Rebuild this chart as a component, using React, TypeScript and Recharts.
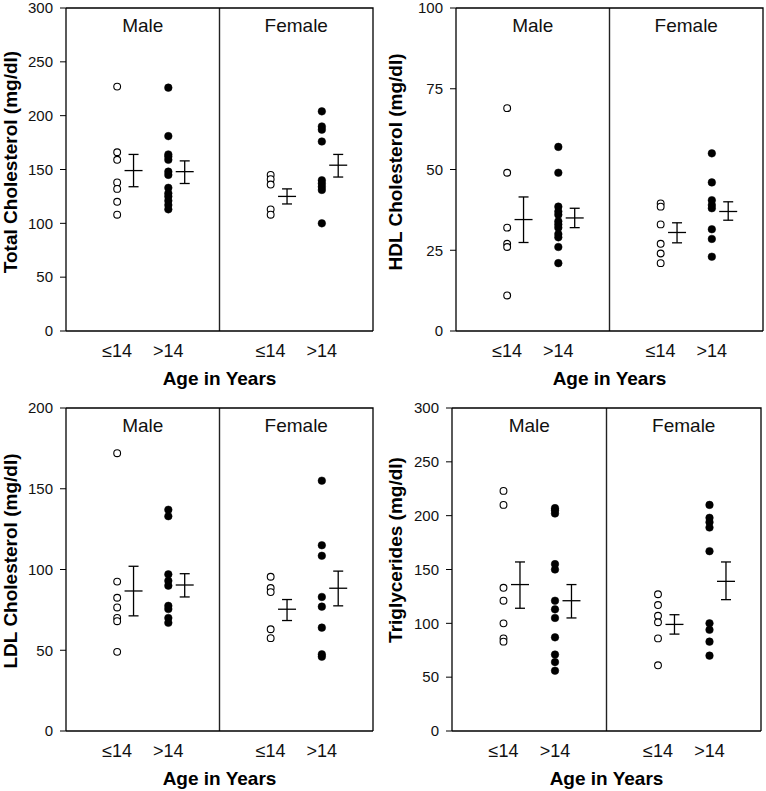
import { ScatterChart, Scatter, XAxis, YAxis, ReferenceArea, ReferenceLine, ErrorBar } from "recharts";

// groups on the x axis: male ≤14, male >14, female ≤14, female >14
const groupLabels = ["≤14", ">14", "≤14", ">14"];
const groupX = [1, 2, 4, 5];
const sexes = ["Male", "Female"];

// Total cholesterol
const tcMaleYoung = [227, 166, 159, 138, 132, 120, 108];
const tcMaleOld = [226, 181, 164, 162, 159, 148, 145, 133, 128, 125, 121, 117, 113];
const tcFemaleYoung = [145, 141, 136, 113, 108];
const tcFemaleOld = [204, 190, 187, 176, 140, 137, 134, 131, 100];
const tcMean = [149, 148, 125, 154];
const tcSeLow = [134, 137, 118, 143];
const tcSeHigh = [164, 158, 132, 164];

// HDL cholesterol
const hdlMaleYoung = [69, 49, 32, 27, 26, 11];
const hdlMaleOld = [57, 49, 38.5, 37, 36, 34, 33, 32, 30, 29, 26, 21];
const hdlFemaleYoung = [39.5, 38.5, 33, 27, 24, 21];
const hdlFemaleOld = [55, 46, 40.5, 39, 38, 31.5, 28.5, 23];
const hdlMean = [34.5, 35, 30.5, 37];
const hdlSeLow = [27.4, 32, 27.3, 34.3];
const hdlSeHigh = [41.5, 38, 33.5, 40];

// LDL cholesterol
const ldlMaleYoung = [172, 92.5, 82.5, 76.5, 70, 68, 49];
const ldlMaleOld = [137, 133, 97, 93, 90, 77.5, 75.5, 70, 67];
const ldlFemaleYoung = [95.5, 88.5, 86, 63, 57.5];
const ldlFemaleOld = [155, 115, 108.5, 83, 77, 64, 47.5, 46];
const ldlMean = [86.7, 90.4, 75.4, 88.4];
const ldlSeLow = [71.3, 83, 68.4, 77.5];
const ldlSeHigh = [102, 97.4, 81.4, 99];

// Triglycerides
const tgMaleYoung = [223, 210, 133, 121, 100, 86, 83];
const tgMaleOld = [207, 205, 202, 155, 150, 121, 113, 105, 87, 71, 64, 56];
const tgFemaleYoung = [127, 117, 107, 101, 86, 61];
const tgFemaleOld = [210, 198, 194, 189, 167, 100, 94, 83, 70];
const tgMean = [136, 121, 99, 139];
const tgSeLow = [114, 105, 90, 122];
const tgSeHigh = [157, 136, 108, 157];

const FONT = "'Liberation Sans', Arial, sans-serif";
const PLOT_TOP = 8;

type PanelProps = {
  left: number;
  top: number;
  axisW: number;
  rightM: number;
  yTitle: string;
  titleX: number;
  titleY: number;
  yMax: number;
  yTicks: number[];
  groups: number[][];
  mean: number[];
  lo: number[];
  hi: number[];
};

function Panel({ left, top, axisW, rightM, yTitle, titleX, titleY, yMax, yTicks, groups, mean, lo, hi }: PanelProps) {
  const open = [
    ...groups[0].map((v) => ({ x: groupX[0], y: v })),
    ...groups[2].map((v) => ({ x: groupX[2], y: v })),
  ];
  const filled = [
    ...groups[1].map((v) => ({ x: groupX[1], y: v })),
    ...groups[3].map((v) => ({ x: groupX[3], y: v })),
  ];
  const means = mean.map((m, i) => ({ x: groupX[i] + 0.32, y: m, err: [m - lo[i], hi[i] - m] }));

  return (
    <div style={{ position: "absolute", left, top }}>
      <ScatterChart width={383} height={391} margin={{ top: PLOT_TOP, right: rightM, bottom: 0, left: 0 }}>
        <XAxis
          type="number"
          dataKey="x"
          domain={[0, 6]}
          ticks={groupX}
          interval={0}
          tickFormatter={(v: number) => groupLabels[groupX.indexOf(v)]}
          height={60}
          tickSize={0}
          tickMargin={13}
          axisLine={{ stroke: "#000", strokeWidth: 1.3 }}
          tick={{ fontSize: 18, fill: "#111" }}
          label={(p: any) => {
            const vb = p.viewBox;
            return (
              <g>
                {/* top and right sides of the plot frame */}
                <path
                  d={`M${vb.x},${PLOT_TOP} H${vb.x + vb.width} V${vb.y}`}
                  fill="none"
                  stroke="#000"
                  strokeWidth={1.3}
                />
                <text
                  x={vb.x + vb.width / 2}
                  y={vb.y + 47}
                  textAnchor="middle"
                  dominantBaseline="central"
                  fontWeight="bold"
                  fontSize={19}
                  fill="#000"
                >
                  Age in Years
                </text>
              </g>
            );
          }}
        />
        <YAxis
          type="number"
          dataKey="y"
          domain={[0, yMax]}
          ticks={yTicks}
          interval={0}
          width={axisW}
          tickSize={6}
          tickMargin={7}
          axisLine={{ stroke: "#000", strokeWidth: 1.3 }}
          tickLine={{ stroke: "#000" }}
          tick={{ fontSize: 15, fill: "#111" }}
          label={() => (
            <text
              x={titleX}
              y={titleY}
              transform={`rotate(-90 ${titleX} ${titleY})`}
              textAnchor="middle"
              dominantBaseline="central"
              fontWeight="bold"
              fontSize={19}
              fill="#000"
            >
              {yTitle}
            </text>
          )}
        />
        <ReferenceArea
          x1={0}
          x2={3}
          y1={0}
          y2={yMax}
          fill="none"
          stroke="none"
          label={{ value: sexes[0], position: "insideTop", offset: 11, fontSize: 19, fill: "#111" }}
        />
        <ReferenceArea
          x1={3}
          x2={6}
          y1={0}
          y2={yMax}
          fill="none"
          stroke="none"
          label={{ value: sexes[1], position: "insideTop", offset: 11, fontSize: 19, fill: "#111" }}
        />
        <ReferenceLine x={3} stroke="#222" strokeWidth={1.4} />
        <Scatter
          data={open}
          isAnimationActive={false}
          shape={(p: any) => <circle cx={p.cx} cy={p.cy} r={3.4} fill="#fff" stroke="#000" strokeWidth={1.1} />}
        />
        <Scatter
          data={filled}
          isAnimationActive={false}
          shape={(p: any) => <circle cx={p.cx} cy={p.cy} r={3.8} fill="#000" stroke="#000" strokeWidth={0.5} />}
        />
        <Scatter
          data={means}
          isAnimationActive={false}
          shape={(p: any) => (
            <line x1={p.cx - 9} x2={p.cx + 9} y1={p.cy} y2={p.cy} stroke="#000" strokeWidth={1.3} />
          )}
        >
          <ErrorBar dataKey="err" direction="y" width={5} stroke="#000" strokeWidth={1.3} isAnimationActive={false} />
        </Scatter>
      </ScatterChart>
    </div>
  );
}

export default function App() {
  return (
    <div
      style={{
        position: "absolute",
        left: 0,
        top: 0,
        width: 766,
        height: 791,
        background: "#fff",
        fontFamily: FONT,
      }}
    >
      <Panel
        left={0}
        top={0}
        axisW={66}
        rightM={10}
        yTitle="Total Cholesterol (mg/dl)"
        titleX={10}
        titleY={162}
        yMax={300}
        yTicks={[0, 50, 100, 150, 200, 250, 300]}
        groups={[tcMaleYoung, tcMaleOld, tcFemaleYoung, tcFemaleOld]}
        mean={tcMean}
        lo={tcSeLow}
        hi={tcSeHigh}
      />
      <Panel
        left={383}
        top={0}
        axisW={73}
        rightM={3}
        yTitle="HDL Cholesterol (mg/dl)"
        titleX={12}
        titleY={162}
        yMax={100}
        yTicks={[0, 25, 50, 75, 100]}
        groups={[hdlMaleYoung, hdlMaleOld, hdlFemaleYoung, hdlFemaleOld]}
        mean={hdlMean}
        lo={hdlSeLow}
        hi={hdlSeHigh}
      />
      <Panel
        left={0}
        top={400}
        axisW={66}
        rightM={10}
        yTitle="LDL Cholesterol (mg/dl)"
        titleX={10}
        titleY={161}
        yMax={200}
        yTicks={[0, 50, 100, 150, 200]}
        groups={[ldlMaleYoung, ldlMaleOld, ldlFemaleYoung, ldlFemaleOld]}
        mean={ldlMean}
        lo={ldlSeLow}
        hi={ldlSeHigh}
      />
      <Panel
        left={383}
        top={400}
        axisW={69}
        rightM={5}
        yTitle="Triglycerides (mg/dl)"
        titleX={12}
        titleY={150}
        yMax={300}
        yTicks={[0, 50, 100, 150, 200, 250, 300]}
        groups={[tgMaleYoung, tgMaleOld, tgFemaleYoung, tgFemaleOld]}
        mean={tgMean}
        lo={tgSeLow}
        hi={tgSeHigh}
      />
    </div>
  );
}
